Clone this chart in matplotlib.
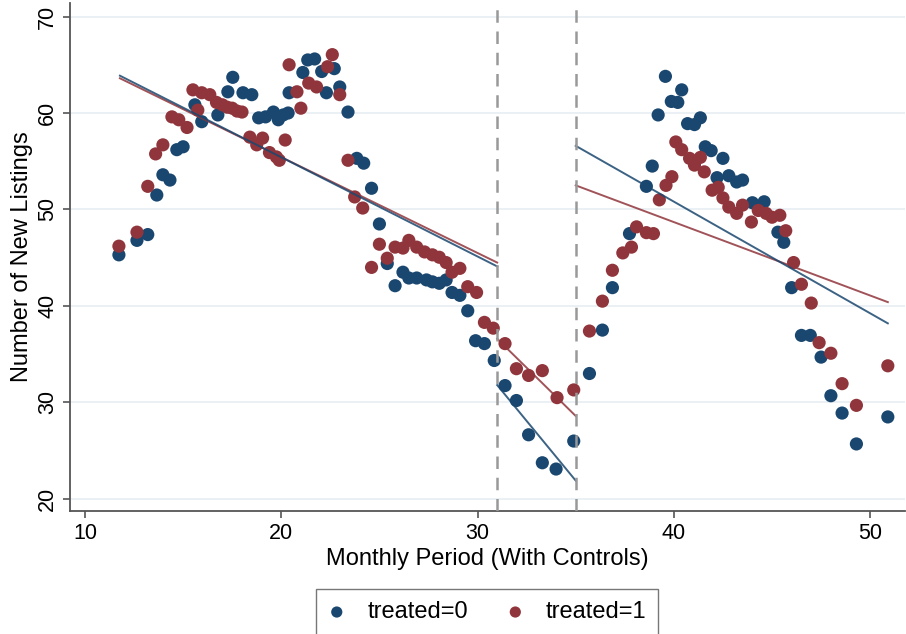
import matplotlib.pyplot as plt
import numpy as np

plt.rcParams['font.family'] = ['Liberation Sans', 'DejaVu Sans']

# binned scatter points, treated=0
x0 = [11.73, 12.65, 13.2, 13.66, 13.97, 14.33, 14.68, 15.0, 15.6, 15.95,
      16.77, 17.28, 17.53, 18.05, 18.5, 18.85, 19.2, 19.6, 19.85, 20.1,
      20.35, 20.4, 21.1, 21.35, 21.7, 22.06, 22.3, 22.7, 22.98, 23.4,
      23.85, 24.2, 24.6, 25.0, 25.4, 25.8, 26.2, 26.5, 26.9, 27.4,
      27.7, 28.05, 28.4, 28.7, 29.1, 29.5, 29.9, 30.35, 30.85, 31.4,
      31.98, 32.6, 33.3, 34.0, 34.9, 35.7, 36.36, 36.87, 37.74, 38.6,
      38.9, 39.2, 39.57, 39.87, 40.2, 40.4, 40.7, 41.05, 41.35, 41.6,
      41.9, 42.2, 42.5, 42.8, 43.2, 43.5, 44.0, 44.6, 45.3, 45.6,
      46.0, 46.5, 46.95, 47.5, 48.0, 48.57, 49.3, 50.9]
y0 = [45.3, 46.8, 47.4, 51.5, 53.6, 53.05, 56.2, 56.5, 60.85, 59.1,
      59.8, 62.2, 63.7, 62.1, 61.9, 59.5, 59.6, 60.1, 59.3, 59.8,
      60.0, 62.1, 64.2, 65.5, 65.6, 64.3, 62.1, 64.6, 62.7, 60.1,
      55.3, 54.8, 52.2, 48.5, 44.4, 42.1, 43.5, 42.9, 42.9, 42.7,
      42.5, 42.35, 42.7, 41.4, 41.1, 39.5, 36.4, 36.1, 34.35, 31.75,
      30.2, 26.65, 23.75, 23.1, 26.0, 33.0, 37.5, 41.9, 47.5, 52.4,
      54.5, 59.8, 63.8, 61.2, 61.1, 62.4, 58.9, 58.8, 59.5, 56.5,
      56.1, 53.3, 55.3, 53.5, 52.85, 53.05, 50.7, 50.8, 47.65, 46.6,
      41.9, 36.95, 36.95, 34.7, 30.7, 28.9, 25.7, 28.5]

# binned scatter points, treated=1
x1 = [11.73, 12.65, 13.2, 13.6, 13.97, 14.43, 14.78, 15.2, 15.5, 15.75,
      15.95, 16.36, 16.7, 17.0, 17.25, 17.5, 17.75, 18.0, 18.4, 18.75,
      19.05, 19.4, 19.75, 19.9, 20.2, 20.4, 20.8, 21.0, 21.4, 21.8,
      22.36, 22.6, 22.98, 23.4, 23.74, 24.15, 24.6, 25.0, 25.4, 25.8,
      26.2, 26.5, 26.9, 27.3, 27.7, 28.05, 28.4, 28.7, 29.1, 29.5,
      29.95, 30.35, 30.8, 31.4, 31.98, 32.6, 33.3, 34.05, 34.9, 35.7,
      36.36, 36.87, 37.4, 37.84, 38.1, 38.6, 38.96, 39.26, 39.6, 39.9,
      40.1, 40.4, 40.8, 41.05, 41.35, 41.55, 41.95, 42.26, 42.5, 42.8,
      43.2, 43.5, 43.95, 44.3, 44.7, 45.0, 45.4, 45.7, 46.1, 46.5,
      47.0, 47.4, 48.0, 48.57, 49.3, 50.9]
y1 = [46.2, 47.65, 52.4, 55.76, 56.7, 59.6, 59.3, 58.5, 62.4, 60.3,
      62.1, 61.9, 61.1, 60.85, 60.6, 60.5, 60.2, 60.1, 57.5, 56.7,
      57.4, 55.9, 55.45, 55.1, 57.2, 65.0, 62.2, 60.5, 63.1, 62.7,
      64.8, 66.05, 61.9, 55.1, 51.3, 50.15, 44.0, 46.4, 44.95, 46.1,
      46.0, 46.8, 46.1, 45.6, 45.3, 45.05, 44.5, 43.5, 43.9, 42.0,
      41.4, 38.3, 37.7, 36.1, 33.5, 32.8, 33.3, 30.5, 31.3, 37.4,
      40.5, 43.7, 45.5, 46.1, 48.2, 47.6, 47.5, 51.0, 52.5, 53.4,
      57.0, 56.2, 55.3, 54.6, 55.4, 53.9, 52.0, 52.3, 51.2, 50.25,
      49.6, 50.45, 48.7, 49.9, 49.6, 49.2, 49.4, 47.8, 44.5, 42.25,
      40.3, 36.2, 35.1, 31.95, 29.7, 33.8]

# fitted line segments (start, end) for each period
fit_x = [(11.78, 31.0), (31.0, 35.0), (35.0, 50.9)]
fit0 = [(63.87, 44.1), (31.8, 21.9), (56.6, 38.2)]
fit1 = [(63.6, 44.5), (36.6, 28.6), (52.5, 40.4)]
cutoffs = [31, 35]

navy = '#1a476f'
maroon = '#90353b'

fig = plt.figure(figsize=(9.06, 6.34), dpi=100)
ax = fig.add_axes([0.0773, 0.194, 0.9217, 0.802])

for yv in range(20, 71, 10):
    ax.axhline(yv, color='#e6eef2', lw=1.2, zorder=0)

ax.scatter(x0, y0, s=90, color=navy, edgecolors='none', zorder=2, label='treated=0')
ax.scatter(x1, y1, s=90, color=maroon, edgecolors='none', zorder=3, label='treated=1')

for xs, a, b in zip(fit_x, fit0, fit1):
    ax.plot(xs, b, color=maroon, lw=1.4, alpha=0.85, zorder=4)
    ax.plot(xs, a, color=navy, lw=1.4, alpha=0.85, zorder=5)

for c in cutoffs:
    ax.axvline(c, color='#999999', lw=1.8, ls=(0, (5, 3.5)), zorder=6)

ax.set_xlim(9.24, 51.78)
ax.set_ylim(18.75, 71.45)
ax.set_xticks([10, 20, 30, 40, 50])
ax.set_yticks([20, 30, 40, 50, 60, 70])
ax.tick_params(axis='both', direction='out', length=5, width=1.2, color='#555555',
               labelsize=15.5, labelcolor='black')
for lab in ax.get_yticklabels():
    lab.set_rotation(90)
    lab.set_va('center')

ax.spines['top'].set_visible(False)
ax.spines['right'].set_visible(False)
ax.spines['left'].set_color('#555555')
ax.spines['bottom'].set_color('#555555')
ax.spines['left'].set_linewidth(1.3)
ax.spines['bottom'].set_linewidth(1.3)

ax.set_xlabel('Monthly Period (With Controls)', fontsize=17, labelpad=3)
ax.set_ylabel('Number of New Listings', fontsize=17, labelpad=3)

fig.legend(loc='upper center', bbox_to_anchor=(0.5375, 0.0815), ncol=2,
           fontsize=17, frameon=True, fancybox=False, edgecolor='#555555',
           markerscale=0.85, handlelength=0.8, handletextpad=0.9,
           columnspacing=1.6, borderpad=0.5, borderaxespad=0.3)

fig.savefig('out.png', dpi=100)
